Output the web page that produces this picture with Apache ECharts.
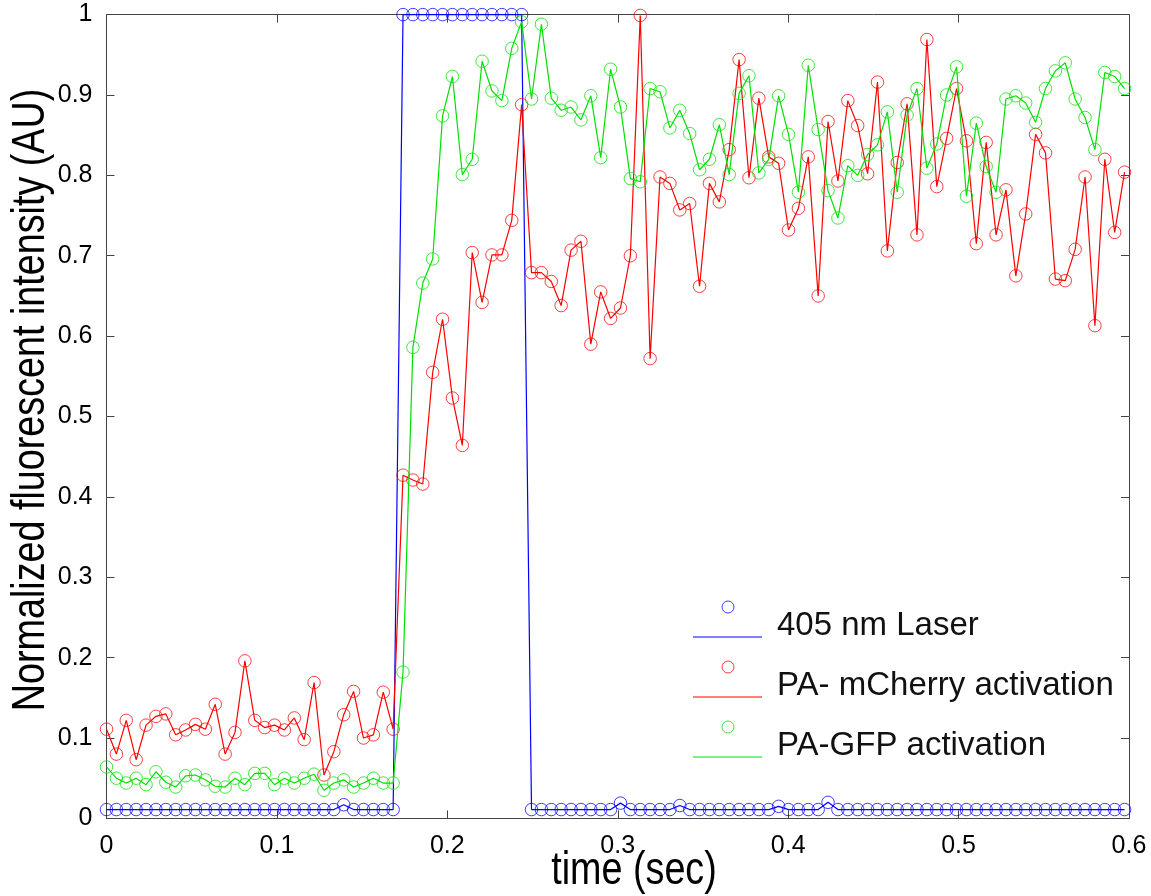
<!DOCTYPE html>
<html>
<head>
<meta charset="utf-8">
<script src="https://cdn.jsdelivr.net/npm/echarts@6/dist/echarts.min.js"></script>
<style>
html,body{margin:0;padding:0;background:#fff;}
#chart{width:1151px;height:896px;}
</style>
</head>
<body>
<div id="chart"></div>
<script>
// time (sec)
const times = [0,0.0058,0.0116,0.0174,0.0232,0.029,0.0348,0.0406,0.0464,0.0522,
0.058,0.0638,0.0696,0.0754,0.0812,0.087,0.0928,0.0986,0.1044,0.1102,
0.116,0.1218,0.1276,0.1334,0.1392,0.145,0.1508,0.1566,0.1624,0.1682,
0.174,0.1798,0.1856,0.1914,0.1972,0.203,0.2088,0.2146,0.2204,0.2262,
0.232,0.2378,0.2436,0.2494,0.2552,0.261,0.2668,0.2726,0.2784,0.2842,
0.29,0.2958,0.3016,0.3074,0.3132,0.319,0.3248,0.3306,0.3364,0.3422,
0.348,0.3538,0.3596,0.3654,0.3712,0.377,0.3828,0.3886,0.3944,0.4002,
0.406,0.4118,0.4176,0.4234,0.4292,0.435,0.4408,0.4466,0.4524,0.4582,
0.464,0.4698,0.4756,0.4814,0.4872,0.493,0.4988,0.5046,0.5104,0.5162,
0.522,0.5278,0.5336,0.5394,0.5452,0.551,0.5568,0.5626,0.5684,0.5742,
0.58,0.5858,0.5916,0.5974];

const laser = [0.011,0.011,0.011,0.011,0.011,0.011,0.011,0.011,0.011,0.011,
0.011,0.011,0.011,0.011,0.011,0.011,0.011,0.011,0.011,0.011,
0.011,0.011,0.011,0.011,0.017,0.011,0.011,0.011,0.011,0.011,
1,1,1,1,1,1,1,1,1,1,
1,1,1,0.011,0.011,0.011,0.011,0.011,0.011,0.011,
0.011,0.011,0.019,0.011,0.011,0.011,0.011,0.011,0.016,0.011,
0.011,0.011,0.011,0.011,0.011,0.011,0.011,0.011,0.015,0.011,
0.011,0.011,0.011,0.020,0.011,0.011,0.011,0.011,0.011,0.011,
0.011,0.011,0.011,0.011,0.011,0.011,0.011,0.011,0.011,0.011,
0.011,0.011,0.011,0.011,0.011,0.011,0.011,0.011,0.011,0.011,
0.011,0.011,0.011,0.011];

const mcherry = [0.111,0.080,0.122,0.073,0.116,0.127,0.130,0.104,0.110,0.117,
0.111,0.142,0.080,0.107,0.196,0.122,0.113,0.116,0.110,0.125,
0.098,0.169,0.054,0.083,0.129,0.158,0.100,0.104,0.157,0.111,
0.427,0.421,0.416,0.555,0.621,0.523,0.464,0.704,0.642,0.701,
0.701,0.744,0.888,0.679,0.679,0.668,0.638,0.707,0.718,0.590,
0.655,0.622,0.635,0.700,0.999,0.572,0.798,0.790,0.757,0.765,
0.662,0.790,0.767,0.832,0.944,0.797,0.896,0.823,0.815,0.732,
0.759,0.823,0.650,0.867,0.793,0.893,0.862,0.802,0.916,0.706,
0.816,0.889,0.726,0.969,0.786,0.846,0.908,0.843,0.715,0.841,
0.726,0.782,0.675,0.752,0.851,0.828,0.671,0.669,0.708,0.798,
0.613,0.820,0.729,0.804];

const gfp = [0.064,0.050,0.044,0.050,0.042,0.058,0.045,0.039,0.053,0.054,
0.048,0.040,0.039,0.050,0.042,0.056,0.056,0.042,0.050,0.044,
0.050,0.055,0.035,0.044,0.048,0.039,0.044,0.050,0.044,0.044,
0.182,0.586,0.666,0.696,0.874,0.923,0.801,0.820,0.942,0.905,
0.893,0.958,0.991,0.895,0.988,0.896,0.881,0.885,0.869,0.899,
0.822,0.932,0.885,0.796,0.792,0.908,0.904,0.859,0.881,0.852,
0.807,0.820,0.863,0.801,0.902,0.924,0.803,0.820,0.899,0.851,
0.779,0.937,0.857,0.781,0.747,0.812,0.800,0.826,0.838,0.879,
0.779,0.875,0.908,0.809,0.839,0.900,0.935,0.774,0.865,0.811,
0.779,0.895,0.899,0.890,0.866,0.908,0.930,0.940,0.895,0.872,
0.832,0.928,0.923,0.908];

const seriesNames = ['405 nm Laser', 'PA- mCherry activation', 'PA-GFP activation'];
const seriesColors = ['#0000ff', '#ff0000', '#00e000'];
const xTitle = 'time (sec)';
const yTitle = 'Normalized fluorescent intensity (AU)';

const values = [laser, mcherry, gfp];
const chart = echarts.init(document.getElementById('chart'), null, {renderer: 'canvas'});

const axisColor = '#444';
const tickFont = {fontFamily: 'Liberation Sans, Arial, sans-serif', fontSize: 25, color: '#000'};
const titleFont = '"Liberation Sans", Arial, sans-serif';

function fmt(v) { return String(+v.toFixed(1)); }

const series = values.map((vals, k) => ({
  name: seriesNames[k],
  type: 'line',
  data: times.map((t, i) => [t, vals[i]]),
  symbol: 'circle',
  symbolSize: 12.5,
  showAllSymbol: true,
  itemStyle: {color: 'rgba(0,0,0,0)', borderColor: seriesColors[k], borderWidth: 1, opacity: 0.75},
  lineStyle: {color: seriesColors[k], width: 1.2},
  emphasis: {disabled: true},
  animation: false,
  z: 2 + k
}));

// legend drawn as graphic (marker sits above the line, as in the reference)
const legendGraphics = [];
seriesNames.forEach((n, k) => {
  const ly = 637 + k * 60;
  legendGraphics.push({type: 'line', shape: {x1: 693, y1: ly, x2: 762, y2: ly},
    style: {stroke: seriesColors[k], lineWidth: 1.2}, silent: true});
  legendGraphics.push({type: 'circle', shape: {cx: 728, cy: ly - 30, r: 6},
    style: {fill: 'none', stroke: seriesColors[k], lineWidth: 1, opacity: 0.75}, silent: true});
  legendGraphics.push({type: 'text', x: 777, y: ly - 11,
    style: {text: n, fontSize: 33, fontFamily: 'Liberation Sans, Arial, sans-serif', fill: '#111',
      textAlign: 'left', textVerticalAlign: 'middle'}, silent: true});
});

const option = {
  backgroundColor: '#fff',
  animation: false,
  grid: {left: 106.5, right: 22, top: 14.6, bottom: 77.6, containLabel: false},
  xAxis: [{
    type: 'value', min: 0, max: 0.6, interval: 0.1,
    axisLine: {show: true, lineStyle: {color: axisColor, width: 1}},
    axisTick: {show: true, inside: true, length: 8, lineStyle: {color: axisColor}},
    axisLabel: Object.assign({margin: 15, formatter: fmt, showMinLabel: true, showMaxLabel: true}, tickFont),
    splitLine: {show: false}
  }, {
    type: 'value', position: 'top', min: 0, max: 0.6, interval: 0.1,
    axisLine: {show: true, onZero: false, lineStyle: {color: axisColor, width: 1}},
    axisTick: {show: true, inside: true, length: 8, lineStyle: {color: axisColor}},
    axisLabel: {show: false}, splitLine: {show: false}
  }],
  yAxis: [{
    type: 'value', min: 0, max: 1, interval: 0.1,
    axisLine: {show: true, lineStyle: {color: axisColor, width: 1}},
    axisTick: {show: true, inside: true, length: 8, lineStyle: {color: axisColor}},
    axisLabel: Object.assign({margin: 14, formatter: fmt, showMinLabel: true, showMaxLabel: true}, tickFont),
    splitLine: {show: false}
  }, {
    type: 'value', position: 'right', min: 0, max: 1, interval: 0.1,
    axisLine: {show: true, onZero: false, lineStyle: {color: axisColor, width: 1}},
    axisTick: {show: true, inside: true, length: 8, lineStyle: {color: axisColor}},
    axisLabel: {show: false}, splitLine: {show: false}
  }],
  series: series,
  graphic: legendGraphics.concat([
    {type: 'text', x: 634, y: 871, scaleX: 0.82, silent: true,
      style: {text: xTitle, fontSize: 46, fontFamily: titleFont, fill: '#000', textAlign: 'center', textVerticalAlign: 'middle'}},
    {type: 'text', x: 31, y: 400, rotation: Math.PI / 2, scaleX: 0.82, silent: true,
      style: {text: yTitle, fontSize: 46, fontFamily: titleFont, fill: '#000', textAlign: 'center', textVerticalAlign: 'middle'}}
  ])
};
chart.setOption(option);
</script>
</body>
</html>
